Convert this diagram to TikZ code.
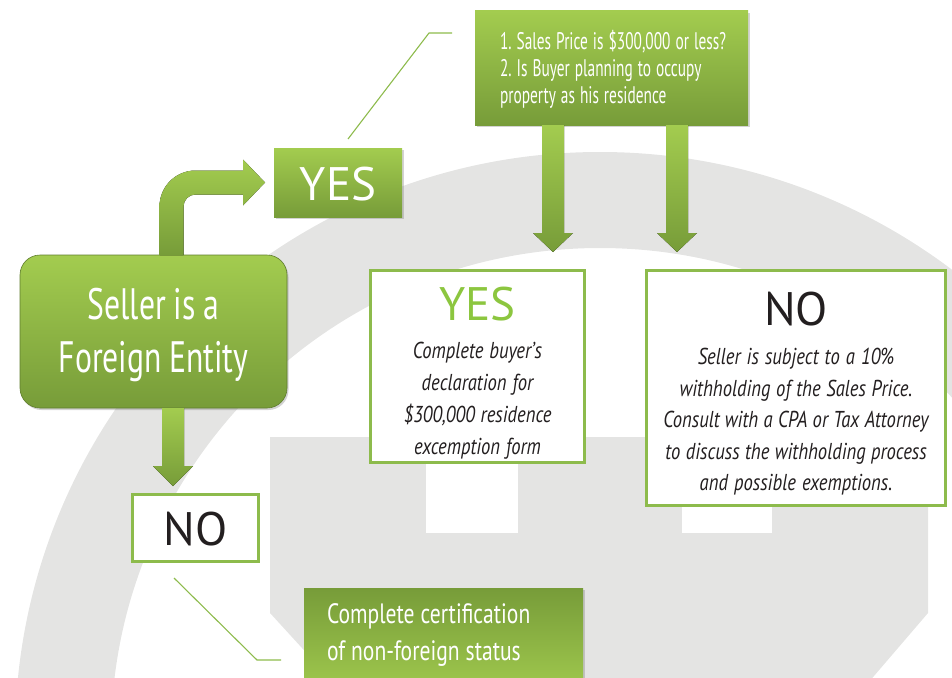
\documentclass[tikz,border=0pt]{standalone}
\usepackage{fontspec}
\setmainfont{PT Sans}
\newfontfamily\cnd{PT Sans}[FakeStretch=0.72]
\newfontfamily\cndq{PT Sans}[FakeStretch=0.64]
\newfontfamily\cndc{PT Sans}[FakeStretch=0.77]
\newfontfamily\cndi{PT Sans Italic}[FakeStretch=0.81]
\usetikzlibrary{shadows,calc}
\definecolor{gtop}{HTML}{A3CC4F}
\definecolor{gbot}{HTML}{779C39}
\definecolor{gline}{HTML}{8DBB4C}
\definecolor{bgg}{HTML}{E4E4E3}
\definecolor{ink}{HTML}{231F20}
\definecolor{yesg}{HTML}{8CC63F}
\newcommand\ind{\hspace*{25pt}}
\newcommand\indc{\hspace*{23pt}}
\newcommand\tightto[1]{\frenchspacing\spaceskip=#1 plus 1pt\relax\xspaceskip=#1 plus 1pt\relax\hyphenpenalty=10000\relax}
\tikzset{
  gbox/.style={rectangle, inner sep=0pt, outer sep=0pt, top color=gtop, bottom color=gbot, text=white,
    drop shadow={shadow xshift=1.5pt, shadow yshift=-2pt, opacity=0.35}},
  wbox/.style={rectangle, inner sep=0pt, fill=white, draw=gline, line width=3pt, text=ink},
  arr/.style={top color=gtop, bottom color=gbot},
  callout/.style={draw=gline, line width=1.1pt},
}
\begin{document}
\begin{tikzpicture}[x=1pt,y=-1pt]
\useasboundingbox (0,0) rectangle (952,677);
% background watermark
\begin{scope}
\clip (0,0) rectangle (952,677);
\fill[bgg, even odd rule] (600,737) circle[radius=585pt] (600,737) circle[radius=489pt];
\fill[bgg] (270,437) -- (928,437) -- (928,613) -- (868,683) -- (334,683) -- (270,613) -- cycle;
\fill[white] (426,450) rectangle (518,533);
\fill[white] (682,450) rectangle (772,533);
\end{scope}

% nodes
\node[gbox, rounded corners=20pt, draw=gbot!80!black, line width=0.6pt, text width=267pt, align=center,
  text height=64pt, text depth=89pt, font=\cnd\fontsize{44}{53}\selectfont, anchor=base] (seller) at (153.5,319)
  {\tightto{7pt}Seller is a\\Foreign Entity};

\node[gbox, text width=128pt, align=center, text height=52pt, text depth=17pt,
  font=\fontsize{47}{47}\selectfont, anchor=base] (yesq) at (338,200) {YES};

\node[gbox, text width=273pt, align=left, text height=39pt, text depth=75pt,
  font=\cndq\fontsize{24}{26.5}\selectfont, anchor=base west] (questions) at (475,50)
  {\tightto{5pt}\ind\mbox{1. Sales Price is \$300,000 or less?}\\\ind\mbox{2. Is Buyer planning to occupy}\\\ind\mbox{property as his residence}};

\node[wbox, text width=214pt, align=center, text height=49.5pt, text depth=142.5pt, anchor=base,
  font=\cndi\fontsize{23}{32}\selectfont] (yesres) at (477.5,320)
  {\tightto{5pt}{\normalfont\fontsize{47}{47}\selectfont\color{yesg}YES}\\[6pt]Complete buyer’s\\declaration for\\\$300,000 residence\\excemption form};

\node[wbox, text width=299pt, align=center, text height=54.5pt, text depth=180.5pt, anchor=base,
  font=\cndi\fontsize{23}{31.5}\selectfont] (nores) at (796,325)
  {\tightto{5pt}{\normalfont\fontsize{47}{47}\selectfont NO}\\[8pt]Seller is subject to a 10\%\\withholding of the Sales Price.\\Consult with a CPA or Tax Attorney\\to discuss the withholding process\\and possible exemptions.};

\node[wbox, text width=126pt, align=center, text height=50.5pt, text depth=16.5pt, anchor=base,
  font=\fontsize{47}{47}\selectfont] (nosmall) at (195.5,545) {NO};

\node[gbox, top color=gbot, bottom color=gtop, text width=279pt, align=left, text height=35pt, text depth=75pt,
  font=\cndc\fontsize{28}{37}\selectfont, anchor=base west] (cert) at (304,623)
  {\tightto{6pt}\indc\mbox{Complete certification}\\\indc\mbox{of non-foreign status}};

% arrows
\fill[arr] let \p1=($(seller.north west)+(151.5,0)$), \p2=(yesq.west) in
  (\x1-12pt,\y1) -- (\x1-12pt,\y2-24pt) arc[start angle=180,end angle=90,radius=36pt]
  -- (\x2-31pt,\y2+12pt) -- (\x2-31pt,\y2+23pt) -- (\x2-9pt,\y2) -- (\x2-31pt,\y2-23pt)
  -- (\x2-31pt,\y2-12pt) -- (\x1+24pt,\y2-12pt) arc[start angle=90,end angle=180,radius=12pt]
  -- (\x1+12pt,\y1) -- cycle;

\fill[arr] let \p1=($(questions.south west)+(78,0)$), \p2=(yesres.north) in
  (\x1-11pt,\y1) -- (\x1-11pt,\y2+36pt) -- (\x1-20pt,\y2+36pt) -- (\x1,\y2+17pt)
  -- (\x1+20pt,\y2+36pt) -- (\x1+11pt,\y2+36pt) -- (\x1+11pt,\y1) -- cycle;

\fill[arr] let \p1=($(questions.south west)+(202,0)$), \p2=(nores.north) in
  (\x1-11pt,\y1) -- (\x1-11pt,\y2+36pt) -- (\x1-20pt,\y2+36pt) -- (\x1,\y2+17pt)
  -- (\x1+20pt,\y2+36pt) -- (\x1+11pt,\y2+36pt) -- (\x1+11pt,\y1) -- cycle;

\fill[arr] let \p1=($(seller.south west)+(153,0)$), \p2=(nosmall.north) in
  (\x1-11pt,\y1) -- (\x1-11pt,\y2+27pt) -- (\x1-20pt,\y2+27pt) -- (\x1,\y2+7pt)
  -- (\x1+20pt,\y2+27pt) -- (\x1+11pt,\y2+27pt) -- (\x1+11pt,\y1) -- cycle;

% callout lines
\coordinate (c1) at ($(yesq.north)+(10,-9)$);
\coordinate (c3) at ($(questions.north west)+(-23,22)$);
\coordinate (c2) at ($(c3)+(-23,0)$);
\draw[callout] (c1) -- (c2) -- (c3);
\coordinate (d1) at ($(nosmall.south)+(-21.5,15)$);
\coordinate (d3) at ($(cert.north west)+(-23,72)$);
\coordinate (d2) at ($(d3)+(-24,0)$);
\draw[callout] (d1) -- (d2) -- (d3);
\end{tikzpicture}
\end{document}
